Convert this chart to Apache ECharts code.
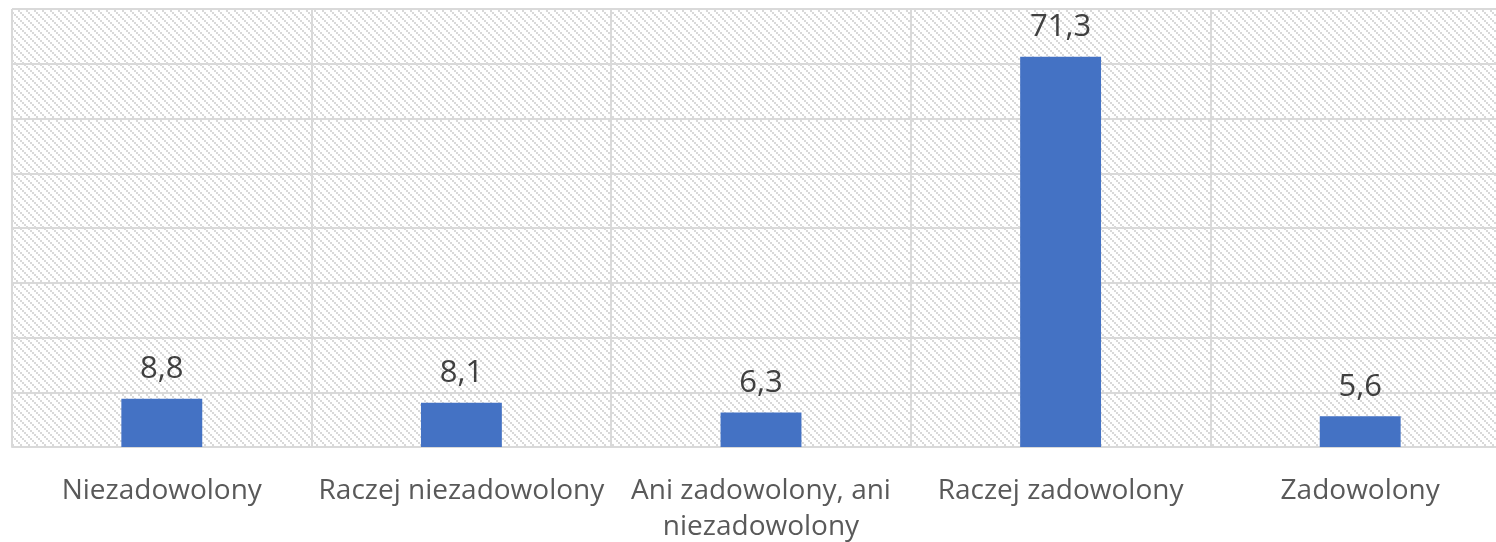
<!DOCTYPE html>
<html>
<head>
<meta charset="utf-8">
<script src="https://cdn.jsdelivr.net/npm/echarts@6/dist/echarts.min.js"></script>
<style>
html,body{margin:0;padding:0;background:#fff;}
#chart{width:1496px;height:542px;}
</style>
</head>
<body>
<div id="chart"></div>
<script>
const categories = ["Niezadowolony", "Raczej niezadowolony", "Ani zadowolony, ani niezadowolony", "Raczej zadowolony", "Zadowolony"];
const values = [8.8, 8.1, 6.3, 71.3, 5.6];
const valueLabels = ["8,8", "8,1", "6,3", "71,3", "5,6"];

// hatch pattern (light downward diagonal)
const tile = document.createElement('canvas');
tile.width = 8; tile.height = 8;
const ctx = tile.getContext('2d');
ctx.fillStyle = '#ffffff';
ctx.fillRect(0, 0, 8, 8);
ctx.fillStyle = '#d9d9d9';
for (let k = 0; k < 4; k++) ctx.fillRect(2 * k, 2 * k, 2, 2);

const chart = echarts.init(document.getElementById('chart'), null, {renderer: 'canvas'});
chart.setOption({
  backgroundColor: '#ffffff',
  animation: false,
  grid: {
    left: 12, right: -14, top: 9, bottom: 95,
    show: true,
    borderWidth: 0,
    backgroundColor: {image: tile, repeat: 'repeat'},
    outerBoundsMode: 'none',
    containLabel: false
  },
  xAxis: {
    type: 'category',
    data: categories,
    axisLine: {show: true, lineStyle: {color: '#d9d9d9', width: 2}},
    axisTick: {show: false},
    splitLine: {show: true, lineStyle: {color: '#d9d9d9', width: 2}},
    axisLabel: {
      color: '#595959',
      fontFamily: 'Open Sans',
      fontSize: 28,
      lineHeight: 36,
      margin: 26,
      interval: 0,
      formatter: function (v) { return v.replace(', ani ', ', ani\n'); }
    }
  },
  yAxis: {
    type: 'value',
    min: 0, max: 80, interval: 10,
    axisLine: {show: false},
    axisTick: {show: false},
    axisLabel: {show: false},
    splitLine: {show: true, lineStyle: {color: '#d9d9d9', width: 2}}
  },
  series: [{
    type: 'bar',
    data: values,
    barWidth: '27%',
    itemStyle: {color: '#4472c4'},
    label: {
      show: true,
      position: 'top',
      distance: 14,
      color: '#404040',
      fontFamily: 'Open Sans',
      fontSize: 31,
      formatter: function (p) { return valueLabels[p.dataIndex]; }
    }
  }]
});
</script>
</body>
</html>
